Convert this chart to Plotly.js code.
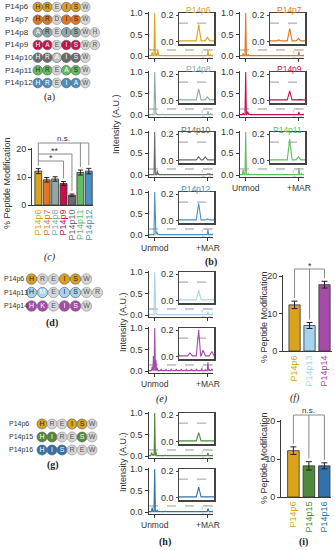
<!DOCTYPE html>
<html><head><meta charset="utf-8">
<script src="https://cdn.plot.ly/plotly-3.0.1.min.js"></script>
<style>html,body{margin:0;padding:0;background:#fff}#chart{width:335px;height:550px}</style>
</head><body><div id="chart"></div>
<script>
// ================= DATA =================
// (a),(d),(g) peptide sequences; mask: 1 = coloured residue, 0 = grey residue, 2 = substituted residue
const namesA = ['P14p6','P14p7','P14p8','P14p9','P14p10','P14p11','P14p12'];
const seqA   = ['HREISW','HRDISW','AREISWH','HAEISWR','HRAISW','HREASW','HREIAW'];
const maskA  = ['110110','110110','2101100','1201100','112110','110210','110120'];
const namesD = ['P14p6','P14p13','P14p14'];
const seqD   = ['HREISW','HMEISWR','HKEISW'];
const maskD  = ['100110','1201100','120110'];
const namesG = ['P14p6','P14p15','P14p16'];
const seqG   = ['HREISW','HIRESW','HISREW'];
const maskG  = ['100110','120010','112000'];

// spectra: peaks [position, relative intensity]; Unmod at 8, +MAR at 92
const peaksP14p6  = [[4,0.09],[8,1.0],[11,0.06],[13,0.15],[18,0.02],[30,0.015],[50,0.01],[87,0.012],[92,0.13],[96,0.035]];
const peaksP14p7  = [[4,0.06],[8,1.0],[12,0.04],[25,0.015],[60,0.01],[87,0.015],[92,0.10],[96,0.025]];
const peaksP14p8  = [[8,1.0],[11,0.03],[20,0.02],[32,0.02],[44,0.02],[56,0.02],[68,0.02],[80,0.02],[92,0.09],[96,0.03]];
const peaksP14p9  = [[4,0.05],[8,1.0],[11,0.08],[14,0.02],[40,0.01],[92,0.075],[95,0.01],[97,0.01]];
const peaksP14p10 = [[8,1.0],[12,0.10],[14,0.03],[92,0.03],[95,0.03]];
const peaksP14p11 = [[4,0.12],[8,1.0],[12,0.03],[22,0.02],[50,0.01],[92,0.16],[96,0.03]];
const peaksP14p12 = [[8,1.0],[11,0.08],[14,0.02],[30,0.015],[87,0.01],[92,0.13],[96,0.015]];
const peaksP14p13 = [[8,1.0],[11,0.05],[92,0.08],[95,0.01]];
const peaksP14p14 = [[4,0.1],[6,0.35],[8,1.0],[10,0.25],[12,0.08],[18,0.05],[26,0.05],[34,0.05],[42,0.05],[50,0.05],[58,0.05],[66,0.05],[74,0.05],[82,0.06],[88,0.03],[92,0.2],[94,0.05],[98,0.04]];
const peaksP14p15 = [[3,0.08],[6,0.05],[8,1.0],[10,0.1],[25,0.02],[89,0.01],[92,0.07],[96,0.01]];
const peaksP14p16 = [[4,0.1],[8,1.0],[12,0.05],[25,0.02],[88,0.012],[92,0.08],[95,0.01]];
const specTicks = ['Unmod','+MAR'];
const specTickPos = [8, 92];
const mainYTicks = [0, 0.5, 1];
const insetYTicks = [0, 0.2];

// bar charts (% peptide modification)
const catsC = ['P14p6','P14p7','P14p8','P14p9','P14p10','P14p11','P14p12'];
const valsC = [12.1, 9.0, 9.3, 7.7, 3.5, 11.6, 12.1];
const errC  = [0.9, 0.8, 0.8, 0.7, 0.4, 0.9, 1.0];
const catsF = ['P14p6','P14p13','P14p14'];
const valsF = [12.3, 6.8, 17.7];
const errF  = [1.0, 0.8, 0.9];
const catsI = ['P14p6','P14p15','P14p16'];
const valsI = [12.2, 8.2, 8.2];
const errI  = [1.0, 1.1, 0.8];

// ================= STYLE =================
const pepColor = {P14p6:'#DBA21C', P14p7:'#E2771D', P14p8:'#8EA9A7', P14p9:'#C8104C', P14p10:'#6B6B6B',
  P14p11:'#62BC62', P14p12:'#4B8FC4', P14p13:'#A6D4F0', P14p14:'#A64BA9', P14p15:'#4F8A3A', P14p16:'#2F72AE'};
const darkFill = {P14p9:1, P14p10:1, P14p14:1, P14p15:1, P14p16:1, P14p12:1};
const greyFill = '#D6D6D6';
const W = 335, H = 550;
const px = v => v / W;
const py = v => 1 - v / H;
const FONT = 'Liberation Sans, Arial, sans-serif';
const SERIF = 'Liberation Serif, DejaVu Serif, serif';
const AX = '#3a3a3a';

const layout = {
  width: W, height: H, margin: {l:0, r:0, t:0, b:0},
  paper_bgcolor: '#ffffff', plot_bgcolor: '#ffffff', showlegend: false,
  font: {family: FONT, size: 9, color: '#333'},
  xaxis: {domain:[0,1], range:[0,W], visible:false, fixedrange:true},
  yaxis: {domain:[0,1], range:[H,0], visible:false, fixedrange:true},
  shapes: [], annotations: []
};
const traces = [];

function ann(text, x, y, o) {
  layout.annotations.push(Object.assign({text:text, x:px(x), y:py(y), xref:'paper', yref:'paper',
    showarrow:false, xanchor:'center', yanchor:'middle', font:{size:9, color:'#333', family:FONT}}, o || {}));
}
function line(x0, y0, x1, y1, color, width, dash) {
  layout.shapes.push({type:'line', xref:'paper', yref:'paper', x0:px(x0), y0:py(y0), x1:px(x1), y1:py(y1),
    line:{color:color || '#8a8a8a', width:width || 1, dash:dash || 'solid'}});
}

// ================= PEPTIDE DIAGRAMS =================
const groups = [
  {names:namesA, seqs:seqA, masks:maskA, labelX:3, cx:37.8, step:9.5, size:9.6, rows:[7,19.7,32.3,45,57.7,70.3,83], lab:8, let:6.5},
  {names:namesD, seqs:seqD, masks:maskD, labelX:2, cx:31.5, step:11, size:10.4, rows:[279,292.5,306], lab:7, let:7},
  {names:namesG, seqs:seqG, masks:maskG, labelX:7, cx:42, step:10, size:10, rows:[424,437,450], lab:7, let:7}
];
groups.forEach(g => {
  const xs=[], ys=[], fills=[], lines=[], txt=[], tcol=[];
  g.names.forEach((nm, r) => {
    ann(nm, g.labelX, g.rows[r], {xanchor:'left', font:{size:g.lab, color:'#333', family:FONT}});
    const s = g.seqs[r], m = g.masks[r];
    for (let i = 0; i < s.length; i++) {
      xs.push(g.cx + i*g.step); ys.push(g.rows[r]); txt.push(s[i]);
      const k = m[i];
      if (k === '0') { fills.push(greyFill); lines.push('#9a9a9a'); tcol.push('#555'); }
      else if (k === '2') { fills.push(nm === 'P14p10' ? '#C4C4C4' : pepColor[nm]); lines.push('#666'); tcol.push('#ffffff'); }
      else { fills.push(pepColor[nm]); lines.push('#666'); tcol.push(darkFill[nm] ? '#ffffff' : '#2a2a2a'); }
    }
  });
  traces.push({type:'scatter', mode:'markers+text', x:xs, y:ys, xaxis:'x', yaxis:'y', text:txt,
    textposition:'middle center', textfont:{size:g.let, color:tcol, family:FONT},
    marker:{size:g.size, color:fills, line:{color:lines, width:0.7}}, hoverinfo:'skip', cliponaxis:false});
});
ann('(a)', 50, 97, {font:{size:10, color:'#222', family:SERIF}});
ann('<b>(d)</b>', 52, 323, {font:{size:10, color:'#222', family:SERIF}});
ann('<b>(g)</b>', 53, 465, {font:{size:10, color:'#222', family:SERIF}});

// ================= SPECTRA =================
const specPanels = [
  {name:'P14p6',  peaks:peaksP14p6,  left:149, top:13,  title:true,  lab:false},
  {name:'P14p7',  peaks:peaksP14p7,  left:240, top:13,  title:true,  lab:false},
  {name:'P14p8',  peaks:peaksP14p8,  left:149, top:72,  title:true,  lab:false},
  {name:'P14p9',  peaks:peaksP14p9,  left:240, top:72,  title:true,  lab:false},
  {name:'P14p10', peaks:peaksP14p10, left:149, top:132, title:true,  lab:false},
  {name:'P14p11', peaks:peaksP14p11, left:240, top:132, title:true,  lab:true},
  {name:'P14p12', peaks:peaksP14p12, left:149, top:192, title:true,  lab:true},
  {name:'P14p13', peaks:peaksP14p13, left:149, top:272, title:false, lab:false},
  {name:'P14p14', peaks:peaksP14p14, left:149, top:328, title:false, lab:true},
  {name:'P14p15', peaks:peaksP14p15, left:149, top:413, title:false, lab:false},
  {name:'P14p16', peaks:peaksP14p16, left:149, top:469, title:false, lab:true}
];
const SPW = 64, UNIT = 43, BASE = 0.008, HW = 1.1;
const INSET_X = [83, 99], INSET_Y = [-0.015, 0.215], INSET_H = 31, DASH_Y = 0.14;
function specLine(peaks) {
  const pts = [[-1, BASE], [100, BASE]];
  peaks.forEach(p => { pts.push([p[0]-HW, BASE], [p[0], p[1]], [p[0]+HW, BASE]); });
  pts.sort((a, b) => a[0] - b[0]);
  return {x: pts.map(p => p[0]), y: pts.map(p => p[1])};
}
specPanels.forEach((sp, k) => {
  const n = 2 + k, m = 13 + k;
  const d = specLine(sp.peaks);
  const col = pepColor[sp.name];
  const right = sp.left + SPW;
  const yTop = sp.top - 0.02*UNIT, yBot = sp.top + 1.04*UNIT;   // pixel extent of the main y range [-0.04, 1.02]
  layout['xaxis'+n] = {domain:[px(sp.left), px(right)], range:[-1,100], anchor:'y'+n,
    showline:true, linecolor:AX, linewidth:1.5, ticks:'outside', ticklen:3, tickwidth:1, tickcolor:AX,
    tickmode:'array', tickvals:specTickPos, ticktext: sp.lab ? specTicks : ['',''],
    tickfont:{size:8.5, color:'#333'}, showgrid:false, zeroline:false, fixedrange:true};
  layout['yaxis'+n] = {domain:[py(yBot), py(yTop)], range:[-0.04,1.02], anchor:'x'+n,
    showline:true, linecolor:AX, linewidth:1.5, ticks:'outside', ticklen:3, tickwidth:1, tickcolor:AX,
    tickmode:'array', tickvals:mainYTicks, showticklabels:false,
    showgrid:false, zeroline:false, fixedrange:true};
  layout['xaxis'+m] = {domain:[px(right-34), px(right+1)], range:INSET_X, anchor:'y'+m,
    showline:true, mirror:true, linecolor:'#444', linewidth:1.5, ticks:'', showticklabels:false,
    showgrid:false, zeroline:false, fixedrange:true};
  layout['yaxis'+m] = {domain:[py(sp.top + INSET_H), py(sp.top)], range:INSET_Y, anchor:'x'+m,
    showline:true, mirror:true, linecolor:'#444', linewidth:1.5, ticks:'outside', ticklen:2, tickcolor:'#444',
    tickmode:'array', tickvals:insetYTicks, showticklabels:false,
    showgrid:false, zeroline:false, fixedrange:true};
  traces.push({type:'scatter', mode:'lines', x:d.x, y:d.y, xaxis:'x'+n, yaxis:'y'+n,
    line:{color:col, width:1.1}, hoverinfo:'skip'});
  traces.push({type:'scatter', mode:'lines', x:d.x, y:d.y, xaxis:'x'+m, yaxis:'y'+m,
    line:{color:col, width:1.1}, hoverinfo:'skip'});
  layout.shapes.push({type:'line', xref:'x'+n, yref:'y'+n, x0:-1, x1:100, y0:DASH_Y, y1:DASH_Y, layer:'below',
    line:{color:'#9a9a9a', width:1, dash:'dash'}});
  layout.shapes.push({type:'rect', xref:'x'+n, yref:'y'+n, x0:INSET_X[0], x1:100, y0:-0.04, y1:DASH_Y, layer:'below',
    line:{color:'#b5b5b5', width:0.8, dash:'dot'}});
  layout.shapes.push({type:'line', xref:'x'+m, yref:'y'+m, x0:INSET_X[0], x1:INSET_X[1], y0:DASH_Y, y1:DASH_Y, layer:'below',
    line:{color:'#9a9a9a', width:1, dash:'dash'}});
  // y tick labels, placed at the axis tick positions
  const mainPx = v => yBot - (v + 0.04) / 1.06 * (yBot - yTop);
  mainYTicks.forEach(v => ann(v.toFixed(1), sp.left - 4.5, mainPx(v), {xanchor:'right', font:{size:9, color:'#333', family:FONT}}));
  const insPx = v => sp.top + INSET_H - (v - INSET_Y[0]) / (INSET_Y[1] - INSET_Y[0]) * INSET_H;
  insetYTicks.forEach(v => ann(v.toFixed(1), right - 34 - 3.5, insPx(v), {xanchor:'right', font:{size:9, color:'#333', family:FONT}}));
  if (sp.title) ann(sp.name, right, sp.top - 2.5, {xanchor:'right', font:{size:8.5, color:col, family:FONT}});
});
ann('Intensity (A.U.)', 116, 124, {textangle:-90});
ann('Intensity (A.U.)', 123, 322, {textangle:-90});
ann('Intensity (A.U.)', 123, 462, {textangle:-90});
ann('<b>(b)</b>', 211, 262, {font:{size:10, color:'#222', family:SERIF}});
ann('<i>(e)</i>', 162, 399, {font:{size:10, color:'#222', family:SERIF}});
ann('<b>(h)</b>', 165, 542, {font:{size:10, color:'#222', family:SERIF}});

// ================= BAR CHARTS =================
const barPanels = [
  {cats:catsC, vals:valsC, errs:errC, left:32,  right:93,    bottom:205, top:148.2, xr:[-0.75,6.5], w:0.82, cap:2.5},
  {cats:catsF, vals:valsF, errs:errF, left:283, right:332,   bottom:351, top:274.9, xr:[-0.77,2.5], w:0.75, cap:3},
  {cats:catsI, vals:valsI, errs:errI, left:281, right:330.6, bottom:497, top:419.9, xr:[-0.8,2.4],  w:0.75, cap:3}
];
const YTOP = 20.3;
const bx = (p, i) => p.left + (i - p.xr[0]) / (p.xr[1] - p.xr[0]) * (p.right - p.left);
const by = (p, v) => p.bottom - v / YTOP * (p.bottom - p.top);
barPanels.forEach((p, k) => {
  const n = 24 + k;
  const idx = p.cats.map((c, i) => i);
  layout['xaxis'+n] = {domain:[px(p.left), px(p.right)], range:p.xr, anchor:'y'+n, showline:true, linecolor:AX,
    linewidth:1, ticks:'', tickmode:'array', tickvals:idx,
    ticktext:p.cats.map(c => '<span style="color:' + pepColor[c] + '">' + c + '</span>'),
    tickangle:-90, tickfont:{size:9}, showgrid:false, zeroline:false, fixedrange:true};
  layout['yaxis'+n] = {domain:[py(p.bottom), py(p.top)], range:[0,YTOP], anchor:'x'+n, showline:true, linecolor:AX,
    linewidth:1, ticks:'outside', ticklen:3, tickcolor:AX, tickvals:[0,10,20], tickfont:{size:9, color:'#333'},
    showgrid:false, zeroline:false, fixedrange:true};
  traces.push({type:'bar', x:idx, y:p.vals, width:p.w, xaxis:'x'+n, yaxis:'y'+n,
    marker:{color:p.cats.map(c => pepColor[c]), line:{color:'#333', width:0.8}},
    error_y:{type:'data', array:p.errs, visible:true, color:'#222', thickness:1, width:p.cap}, hoverinfo:'skip'});
});
// (c) significance brackets
(function(){
  const p = barPanels[0], top = (i) => by(p, p.vals[i] + p.errs[i]) - 3;
  line(bx(p,0), 143, bx(p,0), top(0));
  line(bx(p,0), 143, bx(p,6), 143);
  line(bx(p,5), 143, bx(p,5), top(5));
  line(bx(p,6), 143, bx(p,6), top(6));
  line(bx(p,0), 154, bx(p,4), 154); line(bx(p,4), 154, bx(p,4), top(4));
  line(bx(p,0), 161, bx(p,3), 161); line(bx(p,3), 161, bx(p,3), top(3));
  ann('n.s.', (bx(p,0)+bx(p,6))/2, 138, {font:{size:8, color:'#333', family:FONT}});
  ann('**', (bx(p,0)+bx(p,4))/2, 151, {font:{size:9, color:'#333', family:FONT}});
  ann('*', (bx(p,0)+bx(p,3))/2, 158, {font:{size:9, color:'#333', family:FONT}});
})();
// (f) bracket
(function(){
  const p = barPanels[1], top = (i) => by(p, p.vals[i] + p.errs[i]) - 3;
  line(bx(p,0), 269, bx(p,2), 269);
  [0,1,2].forEach(i => line(bx(p,i), 269, bx(p,i), top(i)));
  ann('*', bx(p,1), 266, {font:{size:9, color:'#333', family:FONT}});
})();
// (i) bracket
(function(){
  const p = barPanels[2], top = (i) => by(p, p.vals[i] + p.errs[i]) - 3;
  line(bx(p,0), 415, bx(p,2), 415);
  [0,1,2].forEach(i => line(bx(p,i), 415, bx(p,i), top(i)));
  ann('n.s.', bx(p,1), 410.5, {font:{size:8, color:'#333', family:FONT}});
})();
ann('% Peptide Modification', 7, 183, {textangle:-90});
ann('% Peptide Modification', 264, 317, {textangle:-90});
ann('% Peptide Modification', 264, 458, {textangle:-90});
ann('<i>(c)</i>', 50, 257, {font:{size:10, color:'#222', family:SERIF}});
ann('<i>(f)</i>', 295, 398, {font:{size:10, color:'#222', family:SERIF}});
ann('<b>(i)</b>', 303, 542, {font:{size:10, color:'#222', family:SERIF}});

Plotly.newPlot('chart', traces, layout, {staticPlot:true, displayModeBar:false});
</script>
</body></html>
